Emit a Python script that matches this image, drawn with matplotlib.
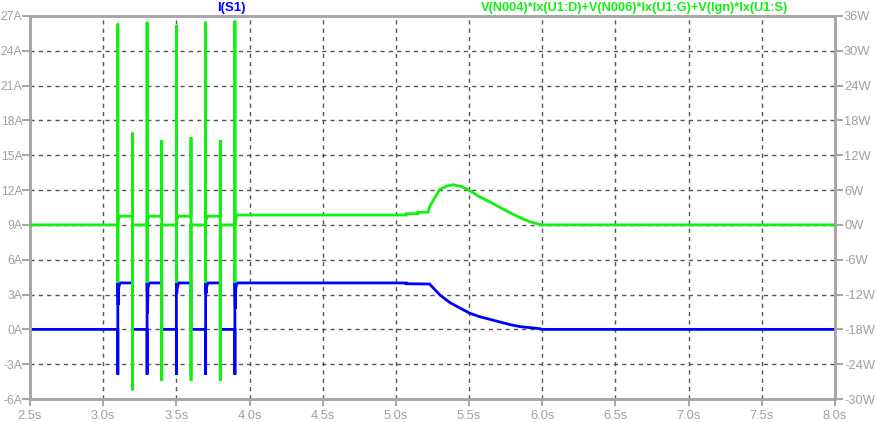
import matplotlib
matplotlib.use("Agg")
import matplotlib.pyplot as plt
import numpy as np

# ---------------- data ----------------
# switching pulses
pulse_on = [3.1, 3.3, 3.5, 3.7, 3.9]
pulse_off = [3.2, 3.4, 3.6, 3.8]

# I(S1) current, A
i_on_level = 4.0
i_on_spike = [-3.9, -3.9, -3.9, -3.9, -3.9]
i_on_dip = [2.1, 1.4, 3.1, 3.1, 1.8]
# final decay of current after the last pulse
i_tail_t = [5.07, 5.07, 5.23, 5.30, 5.37, 5.44, 5.505, 5.57, 5.64, 5.71, 5.78, 5.85, 5.915, 5.98, 6.0, 8.0]
i_tail_v = [4.0, 3.93, 3.91, 2.97, 2.30, 1.82, 1.39, 1.10, 0.87, 0.64, 0.41, 0.23, 0.15, 0.06, 0.0, 0.0]

# power trace, W
p_on_spike = [34.7, 35.0, 34.4, 35.0, 35.2]
p_off_up = [15.9, 14.6, 15.1, 14.6]
p_off_down = [-28.5, -26.9, -26.9, -26.9]
p_on_level = 1.5
p_last_level = 1.7
p_tail_t = [5.07, 5.07, 5.15, 5.15, 5.22, 5.23, 5.27, 5.30, 5.35, 5.39, 5.45, 5.505, 5.57, 5.64, 5.71, 5.78, 5.85, 5.915, 5.98, 6.0, 8.0]
p_tail_v = [1.7, 1.93, 1.93, 2.17, 2.2, 3.14, 4.86, 6.13, 6.7, 6.93, 6.6, 5.9, 4.86, 4.0, 3.03, 2.1, 1.24, 0.55, 0.1, 0.0, 0.0]

x_ticks = [2.5, 3.0, 3.5, 4.0, 4.5, 5.0, 5.5, 6.0, 6.5, 7.0, 7.5, 8.0]
a_ticks = [-6, -3, 0, 3, 6, 9, 12, 15, 18, 21, 24, 27]
w_ticks = [-30, -24, -18, -12, -6, 0, 6, 12, 18, 24, 30, 36]

# ---------------- build traces ----------------
it, iv = [2.5], [0.0]
pt, pv = [2.5], [0.0]
for k, t0 in enumerate(pulse_on):
    it += [t0, t0, t0, t0 + 0.003, t0 + 0.006, t0 + 0.015]
    iv += [0.0, i_on_spike[k], i_on_level, i_on_dip[k], 3.6, i_on_level]
    lvl = p_last_level if k == len(pulse_on) - 1 else p_on_level
    pt += [t0, t0, t0, t0, t0 + 0.004, t0 + 0.015]
    pv += [0.0, p_on_spike[k], -10.0, 0.6, 1.0, lvl]
    if k < len(pulse_off):
        t1 = pulse_off[k]
        it += [t1, t1]
        iv += [i_on_level, 0.0]
        pt += [t1, t1, t1, t1]
        pv += [lvl, p_off_up[k], p_off_down[k], 0.0]
it += i_tail_t
iv += i_tail_v
pt += p_tail_t
pv += p_tail_v

# ---------------- figure ----------------
GRAY = "#a8a8a8"
TXT = "#a0a0a0"
BLUE = "#0000ff"
GREEN = "#11f011"
FONT = "Liberation Sans"

fig = plt.figure(figsize=(8.78, 4.22), dpi=100)
ax = fig.add_axes([30 / 878, 23 / 422, 805 / 878, 383 / 422])
ax2 = ax.twinx()

ax.set_xlim(2.5, 8.0)
ax.set_ylim(-6, 27)
ax2.set_ylim(-30, 36)

ax.set_xticks(x_ticks)
ax.set_xticklabels([f"{t:.1f}s" for t in x_ticks])
ax.set_yticks(a_ticks)
ax.set_yticklabels([f"{a}A" for a in a_ticks])
ax2.set_yticks(w_ticks)
ax2.set_yticklabels([f"{w}W" for w in w_ticks])

for a in (ax, ax2):
    for s in a.spines.values():
        s.set_color(GRAY)
        s.set_linewidth(2)
    a.tick_params(colors=GRAY, labelcolor=TXT, width=1.5, length=6,
                  labelsize=9.3, pad=0.5)
    for lab in a.get_xticklabels() + a.get_yticklabels():
        lab.set_fontfamily(FONT)
ax.tick_params(axis="x", length=5, pad=3)
ax.tick_params(axis="y", labelsize=8.8, length=5.5, pad=0)

# grid (interior only)
for t in x_ticks[1:-1]:
    ax.axvline(t, color="#555555", lw=1, ls=(0, (3, 3)), zorder=1)
for a in a_ticks[1:-1]:
    ax.axhline(a, color="#555555", lw=1, ls=(0, (3, 3)), zorder=1)

ax.plot(it, iv, color=BLUE, lw=2, solid_joinstyle="miter", zorder=3)
ax2.plot(pt, pv, color=GREEN, lw=2, solid_joinstyle="miter", zorder=4)

fig.text(231 / 878, 1 - 8 / 422, "I(S1)", color=BLUE, fontsize=9.5,
         fontweight="bold", family=FONT, ha="center", va="center")
fig.text(635 / 878, 1 - 8 / 422,
         "V(N004)*Ix(U1:D)+V(N006)*Ix(U1:G)+V(Ign)*Ix(U1:S)",
         color=GREEN, fontsize=9.2, fontweight="bold", family=FONT,
         ha="center", va="center")

fig.savefig("out.png", dpi=100, facecolor="white")
